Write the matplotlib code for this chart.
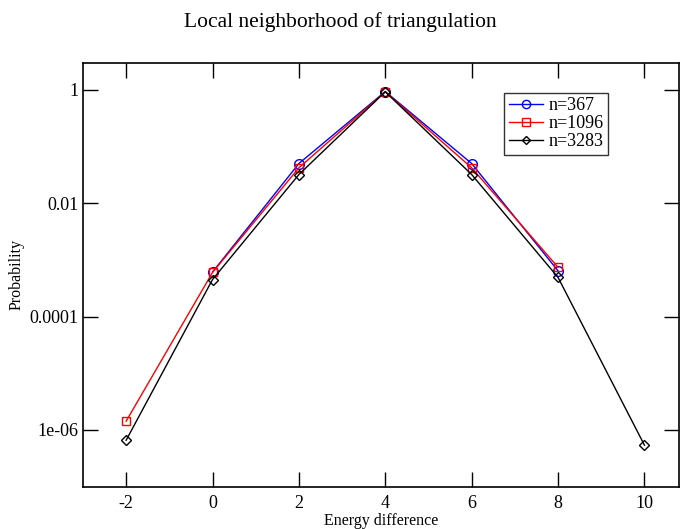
import matplotlib
matplotlib.use("Agg")
import matplotlib.pyplot as plt
import numpy as np

plt.rcParams['font.family'] = ['Liberation Serif', 'DejaVu Serif']

x367 = [0, 2, 4, 6, 8]
y367 = [6.1e-4, 0.050, 0.93, 0.050, 6.4e-4]
x1096 = [-2, 0, 2, 4, 6, 8]
y1096 = [1.43e-6, 6.0e-4, 0.042, 0.92, 0.042, 7.4e-4]
x3283 = [-2, 0, 2, 4, 6, 8, 10]
y3283 = [6.6e-7, 4.5e-4, 0.032, 0.92, 0.032, 4.9e-4, 5.4e-7]

xticks = [-2, 0, 2, 4, 6, 8, 10]
yticks = [1e-6, 1e-4, 1e-2, 1]
ytick_labels = ["1e-06", "0.0001", "0.01", "1"]

fig = plt.figure(figsize=(6.8, 5.29), dpi=100)
ax = fig.add_axes([0.122, 0.080, 0.8765, 0.8015])

ax.plot(x367, y367, color='blue', lw=1, marker='o', ms=7, mfc='none', mec='blue', mew=1, label='n=367')
ax.plot(x1096, y1096, color='red', lw=1, marker='s', ms=6, mfc='none', mec='red', mew=1, label='n=1096')
ax.plot(x3283, y3283, color='black', lw=1, marker='D', ms=5, mfc='none', mec='black', mew=1, label='n=3283')

ax.set_yscale('log')
ax.set_xlim(-3, 10.8)
ax.set_ylim(1e-7, 3)
ax.set_xticks(xticks)
ax.set_xticklabels([str(t) for t in xticks])
ax.set_yticks(yticks)
ax.set_yticklabels(ytick_labels)
ax.yaxis.set_minor_locator(matplotlib.ticker.NullLocator())
ax.tick_params(direction='in', length=11, width=1, top=True, right=True, labelsize=13)
ax.tick_params(axis='y', pad=3)
ax.tick_params(axis='x', pad=6)
for s in ax.spines.values():
    s.set_linewidth(1.2)

ax.set_xlabel('Energy difference', fontsize=11.5, labelpad=1)
ax.set_ylabel('Probability', fontsize=11.5, labelpad=4)
fig.suptitle('Local neighborhood of triangulation', fontsize=15.5, y=0.978)

leg = ax.legend(loc='upper right', bbox_to_anchor=(0.881, 0.929), fontsize=13, frameon=True,
                fancybox=False, edgecolor='black', handlelength=1.9, borderpad=0.25,
                labelspacing=0.05, handletextpad=0.3, borderaxespad=0, markerscale=0.85)
leg.get_frame().set_linewidth(1)

fig.savefig('out.png', dpi=100)
